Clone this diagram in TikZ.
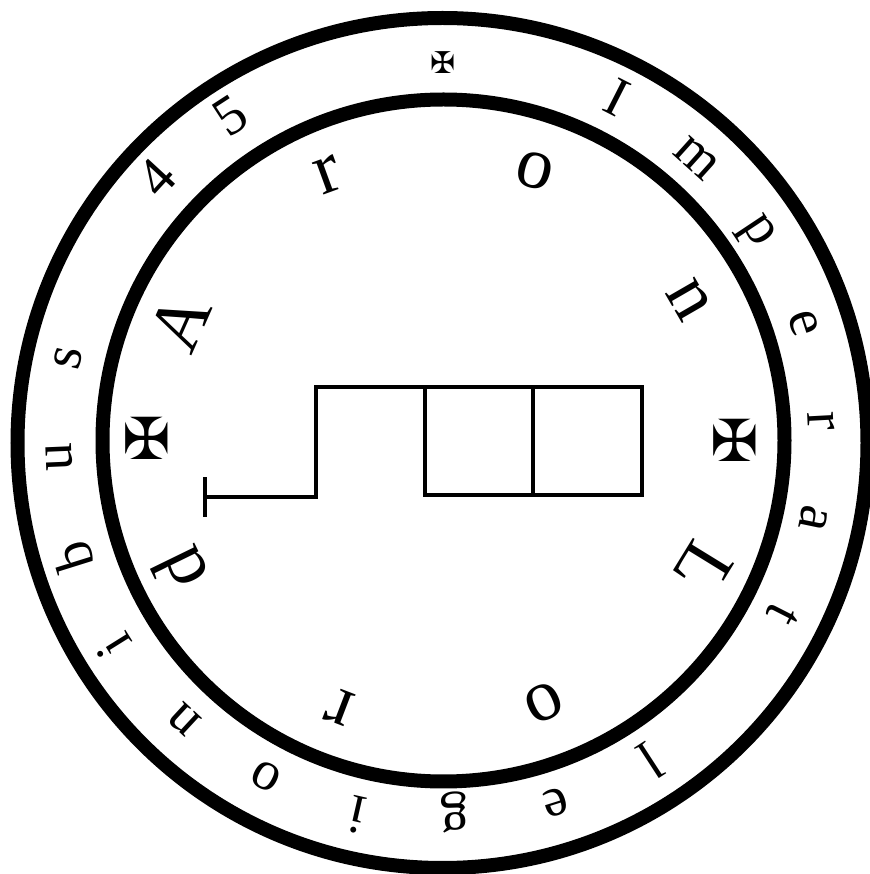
\documentclass[tikz,border=0pt]{standalone}
\usepackage{fontspec}
\setmainfont{Liberation Serif}
\newfontfamily\crossfont{DejaVu Sans}
\begin{document}
\begin{tikzpicture}[
    x=0.5pt, y=0.5pt,
    ring line/.style={line width=7pt},
    % Style for the letters of the outer ring
    ring letter/.style={inner sep=0pt, font=\fontsize{28}{28}\selectfont},
    % Style for the letters of the inner ring
    name letter/.style={inner sep=0pt, font=\fontsize{37}{37}\selectfont},
    cross mark/.style={inner sep=0pt, font=\crossfont\fontsize{#1}{#1}\selectfont},
    wire/.style={line width=2pt, line cap=butt, line join=miter}
]
    \useasboundingbox (0,0) rectangle (870,874);

    % ==========================
    % The two rings
    % ==========================
    \coordinate (centre) at (442,433);
    \draw[ring line] (442.5,431) circle (425);
    \draw[ring line] (443.5,433.5) circle (341);

    % ==========================
    % Outer ring: angle clockwise from the top / letter / radius
    % ==========================
    \foreach \ang/\ltr/\rad in {27/I/386, 42/m/380, 56.4/p/376, 72/e/380, 87/r/380,
        101.7/a/379, 117/t/382, 147/l/382, 162.5/e/379, 178/g/372, 192.8/i/383,
        207.6/o/379, 222.8/n/380, 238/i/387, 252.6/b/387, 267.6/u/383, 282.5/s/383,
        312.7/4/388, 327/5/388}
        \node[ring letter, rotate=-\ang] at ([shift={(90-\ang:\rad)}]centre) {\ltr};
    \node[cross mark=15] (topcross) at (443,811) {✠};

    % ==========================
    % Inner ring: same, with the turn of the letter last
    % ==========================
    \foreach \ang/\ltr/\rad/\turn in {18.9/o/286/15, 60.2/n/284/60, 116/L/291/121.6,
        158.7/o/281/155, 201/r/285/201, 243.8/d/292/244, 294.4/A/288/294, 336.8/r/289/340}
        \node[name letter, rotate=-\turn] at ([shift={(90-\ang:\rad)}]centre) {\ltr};
    \node[cross mark=29] (rightcross) at (735,434) {✠};
    \node[cross mark=29] (leftcross) at (147,436) {✠};

    % ==========================
    % The boxes in the middle
    % ==========================
    \draw[wire] (205,357) -- (205,397);
    \draw[wire] (205,377) -- (316,377) -- (316,487) -- (642,487) -- (642,379) -- (425,379) -- (425,487);
    \draw[wire] (533,487) -- (533,379);
\end{tikzpicture}
\end{document}
